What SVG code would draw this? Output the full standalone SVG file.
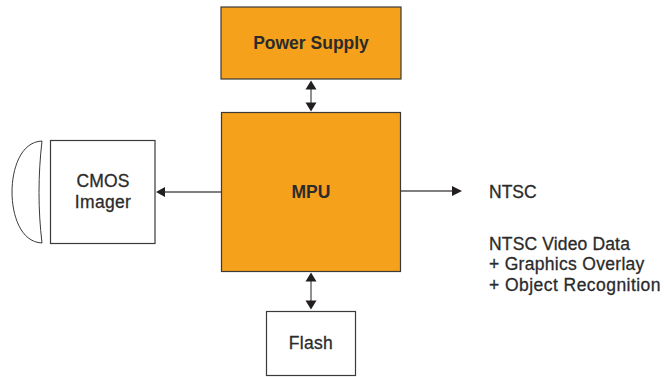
<svg xmlns="http://www.w3.org/2000/svg" width="664" height="377" viewBox="0 0 664 377">
<style>
.box{stroke:#3a3a3a;stroke-width:1.2}
.o{fill:#f5a11c}
.w{fill:#fff}
text{font-family:"Liberation Sans",Arial,sans-serif;font-size:17.500px;letter-spacing:.3px;fill:#2b2b2b;stroke:#2b2b2b;stroke-width:.3px}
.c{text-anchor:middle}
.b{font-weight:bold;letter-spacing:0;stroke:none}
.line{stroke:#555;stroke-width:1.3;fill:none}
.head{fill:#231f20}
</style>
<rect width="664" height="377" fill="#fff"/>
<g id="connectors">
<path class="line" d="M311 84V108M311 276V304M160 192H221M401 191H456"/>
<path class="head" d="M311 80.500l5.500 9h-11zM311 111.500l5.500-9h-11zM311 272.500l5.500 9h-11zM311 309.500l5.500-9h-11zM156 192l9-5v10zM462 191l-10-5v10z"/>
</g>
<g id="power-supply"><rect class="box o" x="221" y="7" width="180" height="72"/><text class="c b" x="311" y="49">Power Supply</text></g>
<g id="mpu"><rect class="box o" x="221.500" y="112.500" width="179" height="159"/><text class="c b" x="311" y="198">MPU</text></g>
<g id="cmos-imager"><rect class="box w" x="50.500" y="140.500" width="104.500" height="103"/><text class="c" x="103" y="187" style="letter-spacing:.1px">CMOS</text><text class="c" x="103" y="208">Imager</text></g>
<g id="lens"><path d="M42 141C20 142 12 170 12 192C12 214 20 242 42 243C38 210 38 175 42 141Z" fill="#fff" stroke="#3a3a3a" stroke-width="1"/></g>
<g id="flash"><rect class="box w" x="266.500" y="311.500" width="89" height="64"/><text class="c" x="311" y="349">Flash</text></g>
<g id="ntsc"><text x="489" y="198" style="letter-spacing:0">NTSC</text></g>
<g id="ntsc-data"><text x="489" y="250" style="letter-spacing:.15px">NTSC Video Data</text><text x="489" y="270">+ Graphics Overlay</text><text x="489" y="291" style="letter-spacing:.45px">+ Object Recognition</text></g>
</svg>
